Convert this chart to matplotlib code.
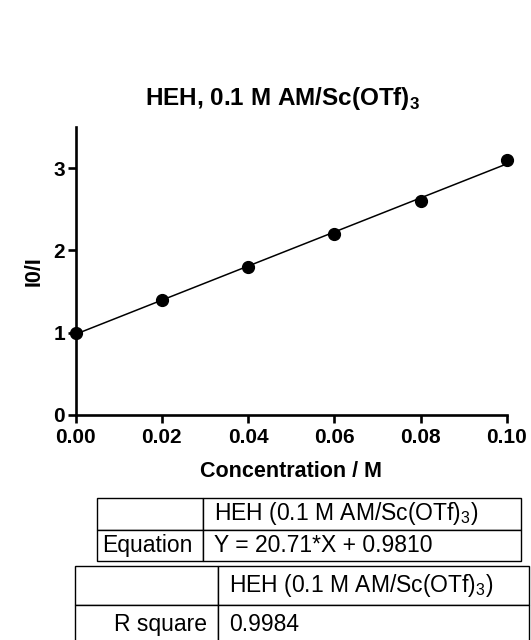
import numpy as np
import matplotlib.pyplot as plt

plt.rcParams['font.family'] = ['Liberation Sans', 'DejaVu Sans']
plt.rcParams['mathtext.fontset'] = 'custom'
plt.rcParams['mathtext.rm'] = 'Liberation Sans'
plt.rcParams['mathtext.bf'] = 'Liberation Sans:bold'

# data
conc = [0.00, 0.02, 0.04, 0.06, 0.08, 0.10]
ratio = [1.0, 1.4, 1.8, 2.2, 2.6, 3.1]
xticks = [0.00, 0.02, 0.04, 0.06, 0.08, 0.10]
yticks = [0, 1, 2, 3]
series_name = 'HEH (0.1 M AM/Sc(OTf)$_3$)'
equation = 'Y = 20.71*X + 0.9810'
r_square = '0.9984'

fig = plt.figure(figsize=(5.31, 6.4), dpi=100)
ax = fig.add_axes([0.1422, 0.3516, 0.8126, 0.45])

slope, icpt = np.polyfit(conc, ratio, 1)
xs = np.array([conc[0], conc[-1]])
ax.plot(xs, slope * xs + icpt, color='black', lw=1.1, zorder=2)
ax.plot(conc, ratio, 'o', color='black', ms=8.5, clip_on=False, zorder=3)

ax.set_xlim(0, 0.1)
ax.set_ylim(0, 3.5)
ax.set_xticks(xticks)
ax.set_xticklabels(['%.2f' % v for v in xticks])
ax.set_yticks(yticks)
for s in ['top', 'right']:
    ax.spines[s].set_visible(False)
for s in ['left', 'bottom']:
    ax.spines[s].set_linewidth(1.9)
ax.tick_params(width=1.9, length=5.5, labelsize=15, pad=2)
ax.tick_params(axis='x', pad=4)
for lab in ax.get_xticklabels() + ax.get_yticklabels():
    lab.set_fontweight('bold')

ax.set_xlabel('Concentration / M', fontsize=15.5, fontweight='bold', labelpad=10)
ax.set_ylabel('I0/I', fontsize=15.5, fontweight='bold', labelpad=6)
ax.set_title(r'HEH, 0.1 M AM/Sc(OTf)$_\mathbf{3}$', fontsize=17.5,
             fontweight='bold', pad=16, x=0.48)


def draw_table(rect, split, rows, pads):
    tax = fig.add_axes(rect)
    tax.axis('off')
    tb = tax.table(cellText=rows, bbox=[0, 0, 1, 1],
                   colWidths=[split, 1 - split])
    tb.auto_set_font_size(False)
    for (r, c), cell in tb.get_celld().items():
        cell.set_linewidth(1.0)
        txt = cell.get_text()
        txt.set_fontsize(16.5)
        if c == 0:
            cell._loc = 'right'
            txt.set_ha('right')
        else:
            cell._loc = 'left'
            txt.set_ha('left')
        cell.PAD = pads[c]
    return tb


# table 1: equation
draw_table([97 / 531, 1 - 561 / 640, 424 / 531, 63 / 640], 106 / 424,
           [['', series_name], ['Equation', equation]], [0.1, 0.035])
# table 2: r square (runs off bottom edge)
draw_table([75 / 531, 1 - 644 / 640, 454 / 531, 78 / 640], 143 / 454,
           [['', series_name], ['R square', r_square]], [0.077, 0.035])

plt.savefig('out.png', dpi=100)
